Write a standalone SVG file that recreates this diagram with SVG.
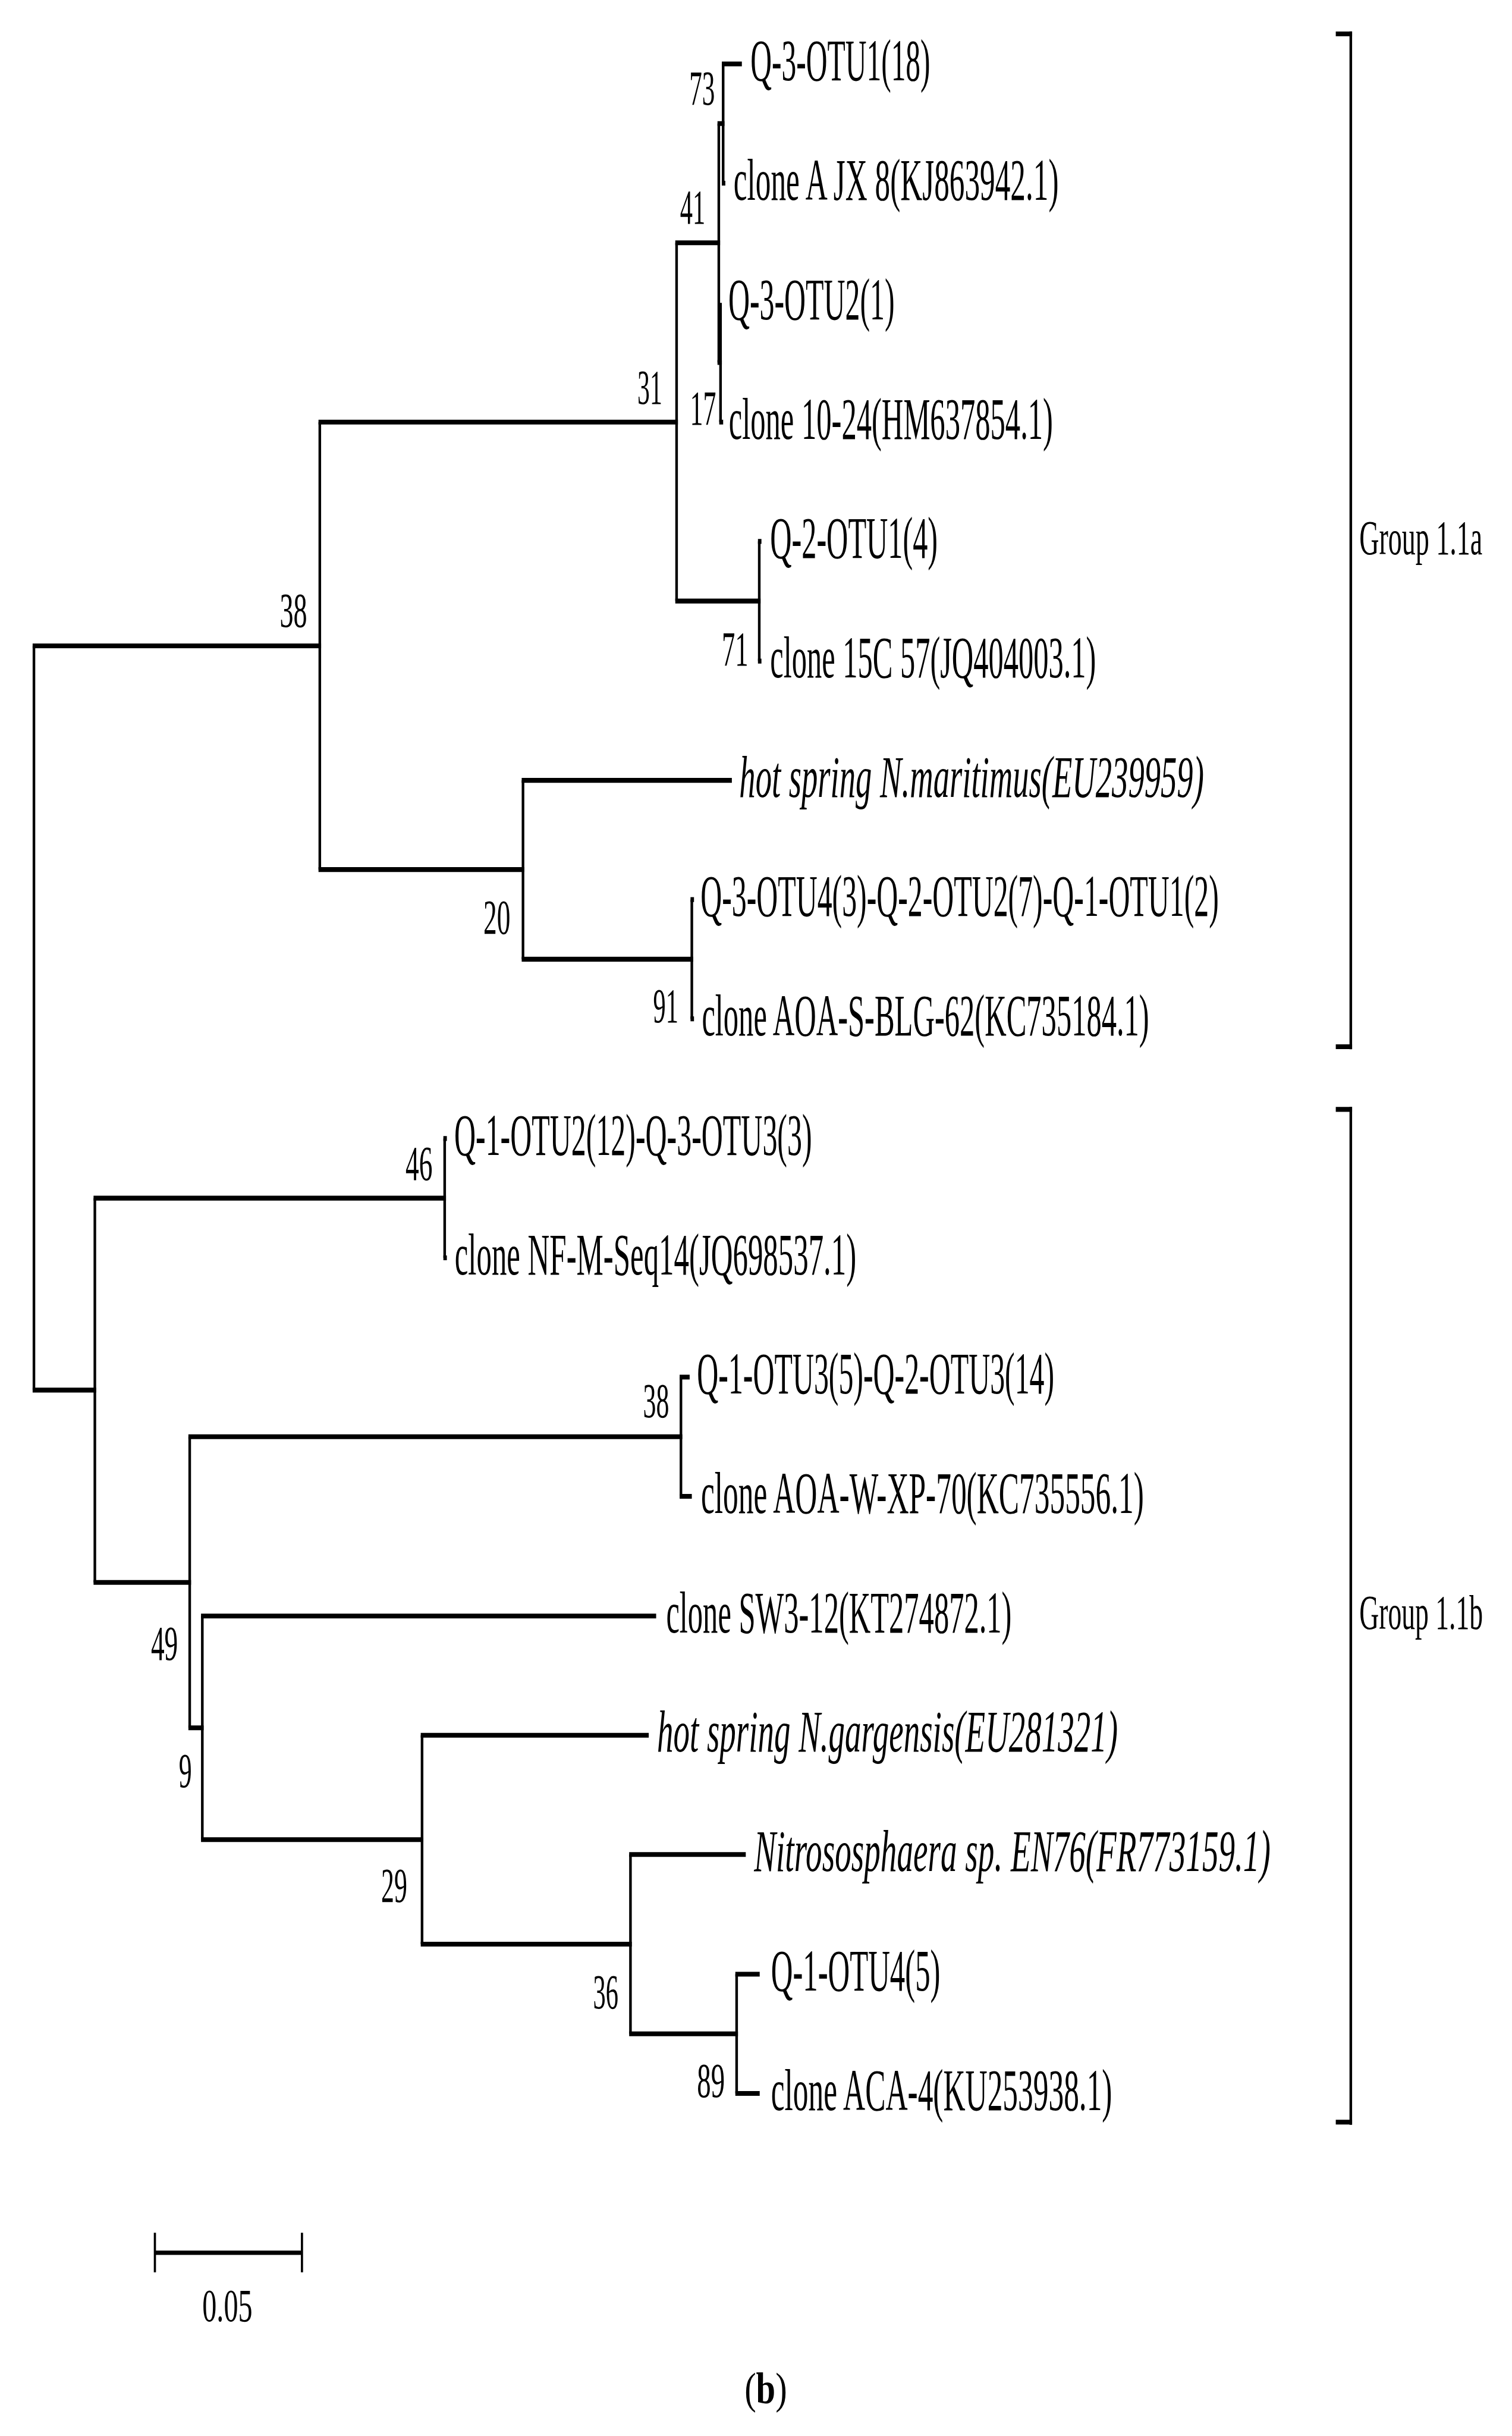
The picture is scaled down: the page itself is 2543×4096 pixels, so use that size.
<svg xmlns="http://www.w3.org/2000/svg" width="2543" height="4096" viewBox="0 0 2543 4096">
<style>
.h{stroke:#000;stroke-width:11;fill:none;stroke-linecap:butt}
.v{stroke:#000;stroke-width:6;fill:none;stroke-linecap:butt}
text{font-family:"Liberation Serif","Times New Roman",serif;fill:#000}
.lab{font-size:136px}
.it{font-style:italic}
.bs{font-size:114px}
.grp{font-size:113px}
</style>
<rect width="2543" height="4096" fill="#fff"/>
<g transform="scale(0.7318)">
<g id="connectors">
<path class="h" d="M75 1484H738 M732 970H1558 M1552 558H1655 M1649 284H1665 M1659 147H1705 M1659 421H1667 M1649 833H1659 M1653 970H1662 M1552 1381H1748 M1742 1244H1750 M1742 1519H1750 M732 1998H1205 M1199 1793H1682 M1199 2204H1593 M1587 2067H1595 M1587 2341H1595"/>
<path class="v" d="M78 1484V3194 M735 970V1998 M1555 558V1381 M1652 284V833 M1662 147V421 M1656 696V970 M1745 1244V1519 M1202 1793V2204 M1590 2067V2341"/>
<path class="h" d="M75 3194H221 M215 2753H1025 M1019 2616H1027 M1019 2890H1027 M215 3636H439 M433 3301H1568 M1562 3164H1585 M1562 3438H1590 M433 3970H468 M462 3713H1508 M462 4227H973 M967 3987H1491 M967 4467H1452 M1446 4261H1714 M1446 4673H1696 M1690 4536H1746 M1690 4810H1746"/>
<path class="v" d="M218 2753V3636 M1022 2616V2890 M436 3301V3970 M1565 3164V3438 M465 3713V4227 M970 3987V4467 M1449 4261V4673 M1693 4536V4810"/>
</g>
<g id="leaf-1"><text class="lab" transform="scale(0.5 1)" x="3450" y="185" textLength="826" lengthAdjust="spacingAndGlyphs">Q-3-OTU1(18)</text></g>
<g id="leaf-2"><text class="lab" transform="scale(0.5 1)" x="3372" y="459" textLength="1494" lengthAdjust="spacingAndGlyphs">clone A JX 8(KJ863942.1)</text></g>
<g id="leaf-3"><text class="lab" transform="scale(0.5 1)" x="3348" y="734" textLength="764" lengthAdjust="spacingAndGlyphs">Q-3-OTU2(1)</text></g>
<g id="leaf-4"><text class="lab" transform="scale(0.5 1)" x="3350" y="1008" textLength="1490" lengthAdjust="spacingAndGlyphs">clone 10-24(HM637854.1)</text></g>
<g id="leaf-5"><text class="lab" transform="scale(0.5 1)" x="3540" y="1282" textLength="770" lengthAdjust="spacingAndGlyphs">Q-2-OTU1(4)</text></g>
<g id="leaf-6"><text class="lab" transform="scale(0.5 1)" x="3540" y="1557" textLength="1498" lengthAdjust="spacingAndGlyphs">clone 15C 57(JQ404003.1)</text></g>
<g id="leaf-7"><text class="lab it" transform="scale(0.5 1)" x="3398" y="1831" textLength="2136" lengthAdjust="spacingAndGlyphs">hot spring N.maritimus(EU239959)</text></g>
<g id="leaf-8"><text class="lab" transform="scale(0.5 1)" x="3220" y="2105" textLength="2382" lengthAdjust="spacingAndGlyphs">Q-3-OTU4(3)-Q-2-OTU2(7)-Q-1-OTU1(2)</text></g>
<g id="leaf-9"><text class="lab" transform="scale(0.5 1)" x="3226" y="2379" textLength="2056" lengthAdjust="spacingAndGlyphs">clone AOA-S-BLG-62(KC735184.1)</text></g>
<g id="leaf-10"><text class="lab" transform="scale(0.5 1)" x="2088" y="2654" textLength="1644" lengthAdjust="spacingAndGlyphs">Q-1-OTU2(12)-Q-3-OTU3(3)</text></g>
<g id="leaf-11"><text class="lab" transform="scale(0.5 1)" x="2090" y="2928" textLength="1846" lengthAdjust="spacingAndGlyphs">clone NF-M-Seq14(JQ698537.1)</text></g>
<g id="leaf-12"><text class="lab" transform="scale(0.5 1)" x="3204" y="3202" textLength="1642" lengthAdjust="spacingAndGlyphs">Q-1-OTU3(5)-Q-2-OTU3(14)</text></g>
<g id="leaf-13"><text class="lab" transform="scale(0.5 1)" x="3222" y="3476" textLength="2036" lengthAdjust="spacingAndGlyphs">clone AOA-W-XP-70(KC735556.1)</text></g>
<g id="leaf-14"><text class="lab" transform="scale(0.5 1)" x="3062" y="3751" textLength="1588" lengthAdjust="spacingAndGlyphs">clone SW3-12(KT274872.1)</text></g>
<g id="leaf-15"><text class="lab it" transform="scale(0.5 1)" x="3020" y="4025" textLength="2118" lengthAdjust="spacingAndGlyphs">hot spring N.gargensis(EU281321)</text></g>
<g id="leaf-16"><text class="lab it" transform="scale(0.5 1)" x="3466" y="4299" textLength="2374" lengthAdjust="spacingAndGlyphs">Nitrososphaera sp. EN76(FR773159.1)</text></g>
<g id="leaf-17"><text class="lab" transform="scale(0.5 1)" x="3544" y="4574" textLength="778" lengthAdjust="spacingAndGlyphs">Q-1-OTU4(5)</text></g>
<g id="leaf-18"><text class="lab" transform="scale(0.5 1)" x="3544" y="4848" textLength="1568" lengthAdjust="spacingAndGlyphs">clone ACA-4(KU253938.1)</text></g>
<g id="node-73"><text class="bs" transform="scale(0.5 1)" x="3168" y="241" textLength="118" lengthAdjust="spacingAndGlyphs">73</text></g>
<g id="node-41"><text class="bs" transform="scale(0.5 1)" x="3126" y="514" textLength="116" lengthAdjust="spacingAndGlyphs">41</text></g>
<g id="node-31"><text class="bs" transform="scale(0.5 1)" x="2930" y="928" textLength="114" lengthAdjust="spacingAndGlyphs">31</text></g>
<g id="node-17"><text class="bs" transform="scale(0.5 1)" x="3172" y="976" textLength="120" lengthAdjust="spacingAndGlyphs">17</text></g>
<g id="node-38a"><text class="bs" transform="scale(0.5 1)" x="1286" y="1440" textLength="126" lengthAdjust="spacingAndGlyphs">38</text></g>
<g id="node-71"><text class="bs" transform="scale(0.5 1)" x="3318" y="1529" textLength="122" lengthAdjust="spacingAndGlyphs">71</text></g>
<g id="node-20"><text class="bs" transform="scale(0.5 1)" x="2222" y="2146" textLength="124" lengthAdjust="spacingAndGlyphs">20</text></g>
<g id="node-91"><text class="bs" transform="scale(0.5 1)" x="3002" y="2349" textLength="116" lengthAdjust="spacingAndGlyphs">91</text></g>
<g id="node-46"><text class="bs" transform="scale(0.5 1)" x="1864" y="2711" textLength="124" lengthAdjust="spacingAndGlyphs">46</text></g>
<g id="node-38b"><text class="bs" transform="scale(0.5 1)" x="2956" y="3256" textLength="120" lengthAdjust="spacingAndGlyphs">38</text></g>
<g id="node-49"><text class="bs" transform="scale(0.5 1)" x="694" y="3814" textLength="124" lengthAdjust="spacingAndGlyphs">49</text></g>
<g id="node-9"><text class="bs" transform="scale(0.5 1)" x="822" y="4106" textLength="60" lengthAdjust="spacingAndGlyphs">9</text></g>
<g id="node-29"><text class="bs" transform="scale(0.5 1)" x="1752" y="4370" textLength="120" lengthAdjust="spacingAndGlyphs">29</text></g>
<g id="node-36"><text class="bs" transform="scale(0.5 1)" x="2726" y="4615" textLength="116" lengthAdjust="spacingAndGlyphs">36</text></g>
<g id="node-89"><text class="bs" transform="scale(0.5 1)" x="3204" y="4818" textLength="128" lengthAdjust="spacingAndGlyphs">89</text></g>
<g id="group-1-1a">
<path class="h" d="M3070 78H3107.5 M3070 2405H3107.5"/>
<path class="v" d="M3104.5 72V2411"/>
<text class="grp" transform="scale(0.56 1)" x="5579" y="1273" textLength="505" lengthAdjust="spacingAndGlyphs">Group 1.1a</text>
</g>
<g id="group-1-1b">
<path class="h" d="M3070 2549H3107.5 M3070 4876H3107.5"/>
<path class="v" d="M3104.5 2543V4882"/>
<text class="grp" transform="scale(0.56 1)" x="5579" y="3743" textLength="507" lengthAdjust="spacingAndGlyphs">Group 1.1b</text>
</g>
<g id="scale-bar">
<path stroke="#000" stroke-width="10" d="M356 5176H694"/>
<path stroke="#000" stroke-width="5" d="M356 5130V5221 M694 5130V5221"/>
<text transform="scale(0.6 1)" x="775" y="5333" font-size="108" textLength="192" lengthAdjust="spacingAndGlyphs">0.05</text>
</g>
<g id="caption">
<text transform="scale(0.8 1)" x="2139" y="5522" font-size="100">(</text>
<text transform="scale(0.8 1)" x="2172" y="5522" font-size="100" font-weight="bold">b</text>
<text transform="scale(0.8 1)" x="2228" y="5522" font-size="100">)</text>
</g>
</g>
</svg>
